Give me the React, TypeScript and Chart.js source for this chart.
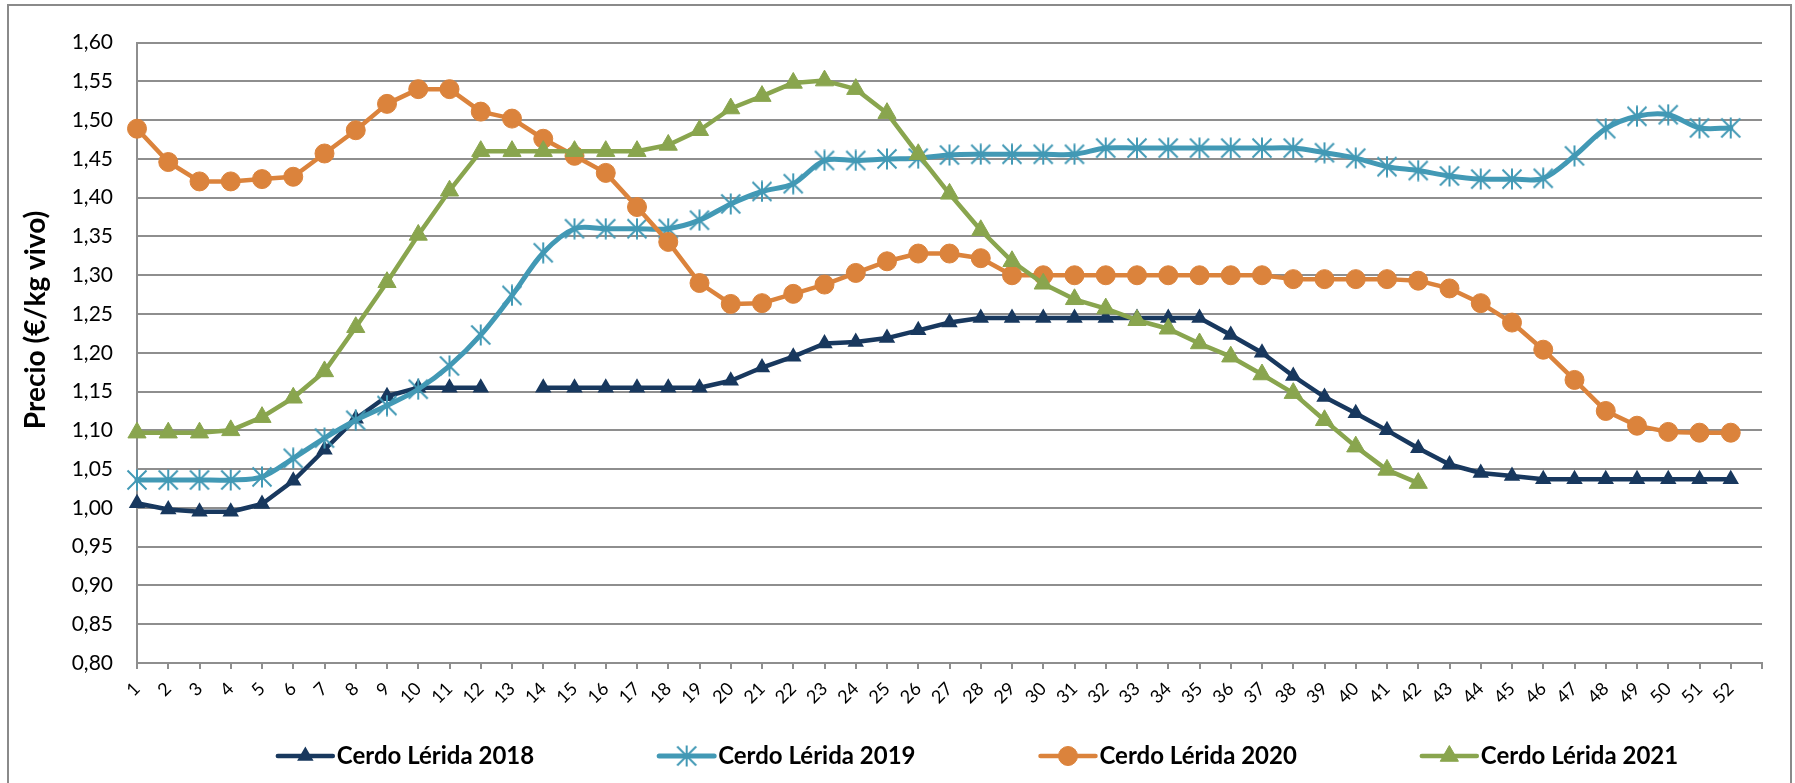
import React, { useEffect, useRef } from 'react';
import { Chart, registerables } from 'chart.js';
import { drawPoint } from 'chart.js/helpers';

Chart.register(...registerables);

// ---- Data ----
const weekLabels = [
  '1', '2', '3', '4', '5', '6', '7', '8', '9', '10', '11', '12', '13', '14', '15', '16', '17', '18',
  '19', '20', '21', '22', '23', '24', '25', '26', '27', '28', '29', '30', '31', '32', '33', '34', '35', '36',
  '37', '38', '39', '40', '41', '42', '43', '44', '45', '46', '47', '48', '49', '50', '51', '52', '',
];

const cerdo2018 = [
  1.006, 0.998, 0.995, 0.995, 1.005, 1.035, 1.075, 1.115, 1.144, 1.155, 1.155, 1.155, null,
  1.155, 1.155, 1.155, 1.155, 1.155, 1.155, 1.164, 1.181, 1.195, 1.212, 1.214, 1.219, 1.229,
  1.239, 1.245, 1.245, 1.245, 1.245, 1.245, 1.245, 1.245, 1.245, 1.223, 1.200, 1.170, 1.143,
  1.122, 1.100, 1.077, 1.056, 1.045, 1.041, 1.037, 1.037, 1.037, 1.037, 1.037, 1.037, 1.037,
];

const cerdo2019 = [
  1.036, 1.036, 1.036, 1.036, 1.040, 1.064, 1.090, 1.113, 1.132, 1.153, 1.183, 1.223, 1.274,
  1.329, 1.360, 1.360, 1.360, 1.360, 1.371, 1.392, 1.408, 1.418, 1.448, 1.448, 1.450, 1.451,
  1.455, 1.456, 1.456, 1.456, 1.456, 1.464, 1.464, 1.464, 1.464, 1.464, 1.464, 1.464, 1.458,
  1.451, 1.440, 1.435, 1.428, 1.424, 1.424, 1.425, 1.454, 1.489, 1.505, 1.507, 1.490, 1.490,
];

const cerdo2020 = [
  1.489, 1.446, 1.421, 1.421, 1.424, 1.427, 1.457, 1.487, 1.521, 1.540, 1.540, 1.511, 1.502,
  1.476, 1.454, 1.432, 1.388, 1.343, 1.290, 1.263, 1.264, 1.276, 1.288, 1.303, 1.318, 1.328,
  1.328, 1.322, 1.300, 1.300, 1.300, 1.300, 1.300, 1.300, 1.300, 1.300, 1.300, 1.295, 1.295,
  1.295, 1.295, 1.293, 1.283, 1.264, 1.239, 1.204, 1.165, 1.125, 1.106, 1.098, 1.097, 1.097,
];

const cerdo2021 = [
  1.097, 1.097, 1.097, 1.100, 1.117, 1.142, 1.176, 1.233, 1.291, 1.352, 1.409, 1.460, 1.460,
  1.460, 1.460, 1.460, 1.460, 1.468, 1.487, 1.515, 1.531, 1.548, 1.551, 1.540, 1.509, 1.456,
  1.405, 1.358, 1.318, 1.289, 1.269, 1.257, 1.242, 1.231, 1.212, 1.195, 1.172, 1.148, 1.113,
  1.079, 1.049, 1.032,
];

const seriesNames = ['Cerdo Lérida 2018', 'Cerdo Lérida 2019', 'Cerdo Lérida 2020', 'Cerdo Lérida 2021'];
const yAxisTitle = 'Precio (€/kg vivo)';
const yMin = 0.8;
const yMax = 1.6;
const yStep = 0.05;

// ---- Styles ----
const NAVY = '#18385E';
const TEAL = '#4299B5';
const ORANGE = '#DB833C';
const GREEN = '#89A54E';
const GRID = '#8e8e8e';
const FONT = 'Lato';

const CANVAS_W = 1781;
const CANVAS_H = 777;

function makeAsterisk(color: string) {
  const c = document.createElement('canvas');
  c.width = 22;
  c.height = 22;
  const g = c.getContext('2d')!;
  g.strokeStyle = color;
  g.lineWidth = 2;
  g.beginPath();
  g.moveTo(11, 0.5);
  g.lineTo(11, 21.5);
  g.moveTo(1.5, 1.5);
  g.lineTo(20.5, 20.5);
  g.moveTo(20.5, 1.5);
  g.lineTo(1.5, 20.5);
  g.stroke();
  return c;
}

const overlayPlugin = {
  id: 'overlayLegendTitle',
  afterDraw(chart: any) {
    const ctx = chart.ctx as CanvasRenderingContext2D;
    const LEGEND_CX = 969;
    const LEGEND_Y = 750;
    const LINE_LEN = 55;
    const TEXT_GAP = 4;
    const ITEM_GAP = 125;
    const legendFont = `bold 24px ${FONT}`;
    ctx.save();
    ctx.font = legendFont;
    const items = chart.data.datasets.map((ds: any) => ({
      ds,
      w: LINE_LEN + TEXT_GAP + ctx.measureText(ds.label).width,
    }));
    const total = items.reduce((s: number, it: any) => s + it.w, 0) + ITEM_GAP * (items.length - 1);
    let x = LEGEND_CX - total / 2;
    for (const it of items) {
      const ds = it.ds;
      ctx.strokeStyle = ds.borderColor;
      ctx.lineWidth = ds.borderWidth;
      ctx.lineCap = 'round';
      ctx.beginPath();
      ctx.moveTo(x, LEGEND_Y);
      ctx.lineTo(x + LINE_LEN, LEGEND_Y);
      ctx.stroke();
      ctx.fillStyle = ds.pointBackgroundColor;
      ctx.strokeStyle = ds.pointBorderColor;
      ctx.lineWidth = ds.pointBorderWidth;
      ctx.lineCap = 'butt';
      drawPoint(
        ctx,
        { pointStyle: ds.pointStyle, rotation: 0, radius: ds.pointRadius, borderWidth: ds.pointBorderWidth } as any,
        x + LINE_LEN / 2,
        LEGEND_Y
      );
      ctx.fillStyle = '#000';
      ctx.textAlign = 'left';
      ctx.textBaseline = 'middle';
      ctx.font = legendFont;
      ctx.fillText(ds.label, x + LINE_LEN + TEXT_GAP, LEGEND_Y);
      x += it.w + ITEM_GAP;
    }
    // y axis title
    ctx.translate(27, 314);
    ctx.rotate(-Math.PI / 2);
    ctx.font = `bold 28px ${FONT}`;
    ctx.fillStyle = '#000';
    ctx.textAlign = 'center';
    ctx.textBaseline = 'middle';
    ctx.fillText(yAxisTitle, 0, 0);
    ctx.restore();
  },
};

export default function App() {
  const canvasRef = useRef<HTMLCanvasElement | null>(null);

  useEffect(() => {
    if (!canvasRef.current) return;
    const asterisk = makeAsterisk(TEAL);
    const chart = new Chart(canvasRef.current, {
      type: 'line',
      data: {
        labels: weekLabels,
        datasets: [
          {
            label: seriesNames[0],
            data: cerdo2018,
            borderColor: NAVY,
            backgroundColor: NAVY,
            borderWidth: 4.5,
            pointStyle: 'triangle',
            pointRadius: 7.5,
            pointBorderWidth: 2,
            pointBackgroundColor: NAVY,
            pointBorderColor: NAVY,
            tension: 0,
            spanGaps: false,
            order: 4,
            clip: false,
          },
          {
            label: seriesNames[1],
            data: cerdo2019,
            borderColor: TEAL,
            backgroundColor: TEAL,
            borderWidth: 5,
            pointStyle: asterisk,
            pointRadius: 10,
            pointBorderWidth: 0,
            pointBackgroundColor: TEAL,
            pointBorderColor: TEAL,
            tension: 0.33,
            order: 3,
            clip: false,
          },
          {
            label: seriesNames[2],
            data: cerdo2020,
            borderColor: ORANGE,
            backgroundColor: ORANGE,
            borderWidth: 4.5,
            pointStyle: 'circle',
            pointRadius: 9.5,
            pointBorderWidth: 1,
            pointBackgroundColor: ORANGE,
            pointBorderColor: ORANGE,
            tension: 0,
            order: 2,
            clip: false,
          },
          {
            label: seriesNames[3],
            data: cerdo2021,
            borderColor: GREEN,
            backgroundColor: GREEN,
            borderWidth: 4.5,
            pointStyle: 'triangle',
            pointRadius: 10.5,
            pointBorderWidth: 1,
            pointBackgroundColor: GREEN,
            pointBorderColor: GREEN,
            tension: 0,
            order: 1,
            clip: false,
          },
        ] as any,
      },
      options: {
        responsive: false,
        animation: false,
        layout: { padding: { top: 27, right: 28, bottom: 0, left: 0 } },
        elements: {
          line: { borderJoinStyle: 'round', borderCapStyle: 'round' },
        },
        plugins: {
          legend: { display: false },
          tooltip: { enabled: false },
          title: { display: false },
        },
        scales: {
          x: {
            type: 'category',
            offset: false,
            grid: {
              display: true,
              drawOnChartArea: false,
              drawTicks: true,
              tickLength: 6,
              color: GRID,
              lineWidth: 2,
            },
            border: { display: true, color: GRID, width: 2 },
            ticks: {
              autoSkip: false,
              maxRotation: 45,
              minRotation: 45,
              padding: 9,
              color: '#000',
              font: { family: FONT, size: 18 },
            },
            afterFit: (s: any) => {
              s.height = 120;
            },
          },
          y: {
            min: yMin,
            max: yMax,
            ticks: {
              stepSize: yStep,
              padding: 24,
              color: '#000',
              font: { family: FONT, size: 21 },
              callback: (v: any) => Number(v).toFixed(2).replace('.', ','),
            },
            grid: { color: GRID, lineWidth: 2, drawTicks: false },
            border: { display: true, color: GRID, width: 2 },
            afterFit: (s: any) => {
              s.width = 128;
            },
          },
        },
      } as any,
      plugins: [overlayPlugin],
    });
    return () => chart.destroy();
  }, []);

  return (
    <div
      style={{
        position: 'absolute',
        left: 7,
        top: 4,
        width: CANVAS_W,
        height: CANVAS_H,
        borderTop: '2px solid #8a8a8a',
        borderLeft: '2px solid #8a8a8a',
        borderRight: '2px solid #8a8a8a',
        background: '#fff',
        overflow: 'hidden',
      }}
    >
      <canvas
        ref={canvasRef}
        width={CANVAS_W}
        height={CANVAS_H}
        style={{ display: 'block', width: CANVAS_W, height: CANVAS_H }}
      />
    </div>
  );
}
